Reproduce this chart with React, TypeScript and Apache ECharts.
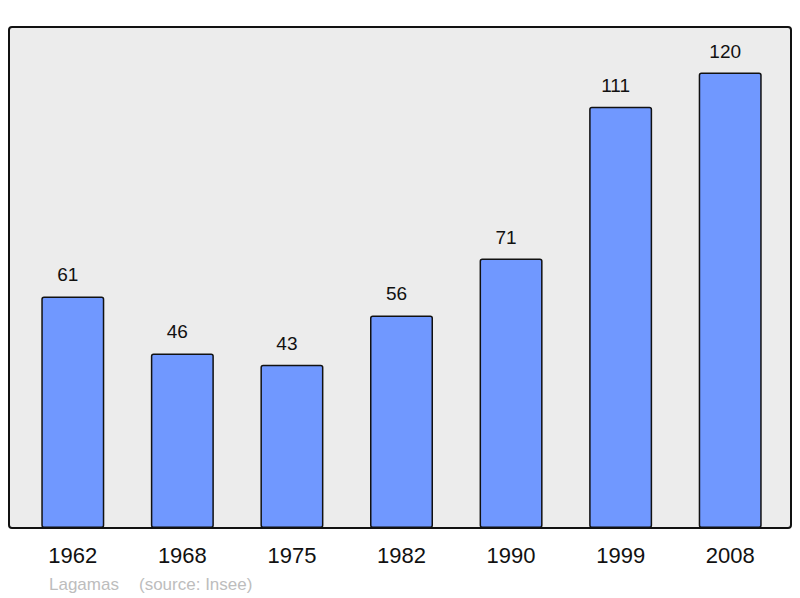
import React, { useEffect, useRef } from "react";
import * as echarts from "echarts";

const years = ["1962", "1968", "1975", "1982", "1990", "1999", "2008"];
const population = [61, 46, 43, 56, 71, 111, 120];
const placeName = "Lagamas";
const sourceText = "(source: Insee)";

export default function App() {
  const ref = useRef<HTMLDivElement>(null);
  useEffect(() => {
    if (!ref.current) return;
    const chart = echarts.init(ref.current, null, { renderer: "svg" });
    const font = "'Liberation Sans', Arial, sans-serif";
    chart.setOption({
      animation: false,
      backgroundColor: "#ffffff",
      textStyle: { fontFamily: font },
      graphic: [
        {
          type: "rect",
          z: -10,
          shape: { x: 9, y: 27, width: 782, height: 501, r: 3 },
          style: { fill: "#ececec", stroke: "#111", lineWidth: 2 },
          silent: true,
        },
        {
          type: "text",
          x: 49,
          y: 584,
          style: {
            text: placeName,
            fill: "#bdbdbd",
            fontSize: 17,
            fontFamily: font,
            verticalAlign: "middle",
          },
        },
        {
          type: "text",
          x: 139,
          y: 584,
          style: {
            text: sourceText,
            fill: "#bdbdbd",
            fontSize: 17,
            fontFamily: font,
            verticalAlign: "middle",
          },
        },
      ],
      grid: { left: 18, top: 27, width: 767, height: 501 },
      xAxis: {
        type: "category",
        data: years,
        axisLine: { show: false },
        axisTick: { show: false },
        axisLabel: { fontSize: 22, color: "#111", margin: 16, fontFamily: font },
      },
      yAxis: {
        type: "value",
        min: 0,
        max: 132,
        show: false,
        splitLine: { show: false },
      },
      series: [
        {
          type: "bar",
          data: population,
          barWidth: 63,
          itemStyle: {
            color: "#7098ff",
            borderColor: "#111",
            borderWidth: 1.5,
            borderRadius: 2,
          },
          label: {
            show: true,
            position: "top",
            distance: 12,
            offset: [-5, 0],
            fontSize: 19,
            color: "#111",
            fontFamily: font,
          },
        },
      ],
    });
    return () => chart.dispose();
  }, []);
  return (
    <div
      ref={ref}
      style={{ position: "fixed", left: 0, top: 0, width: 800, height: 598 }}
    />
  );
}
